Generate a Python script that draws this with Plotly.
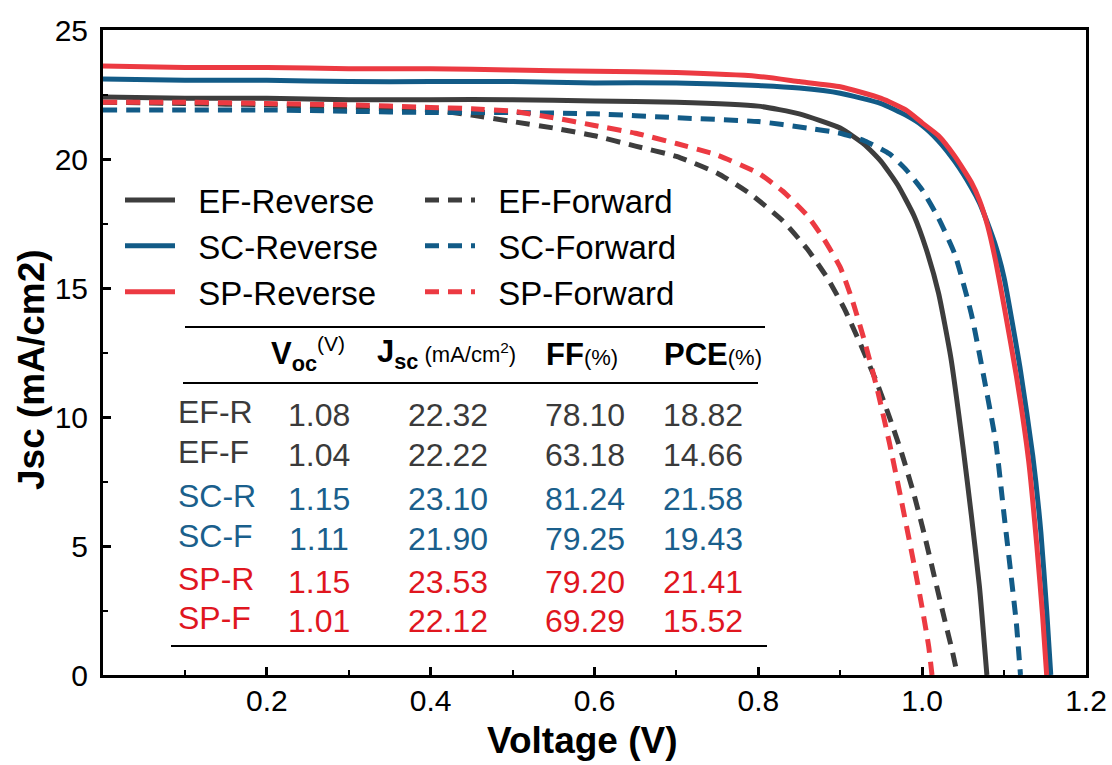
import plotly.graph_objects as go

# ---------------- data ----------------
V_EF_R = [0, 0.1, 0.2, 0.3, 0.4, 0.5, 0.6, 0.7, 0.8, 0.85, 0.9, 0.93, 0.95, 0.97, 0.99, 1.005, 1.02, 1.035, 1.05, 1.06, 1.07, 1.079]
J_EF_R = [22.4, 22.35, 22.35, 22.3, 22.3, 22.3, 22.25, 22.2, 22.05, 21.75, 21.2, 20.55, 19.9, 19.0, 17.8, 16.5, 14.8, 12.3, 8.8, 6.2, 3.4, 0]

V_SC_R = [0, 0.1, 0.2, 0.3, 0.4, 0.5, 0.6, 0.7, 0.8, 0.85, 0.9, 0.95, 0.98, 1.0, 1.02, 1.04, 1.06, 1.07, 1.08, 1.09, 1.1, 1.12, 1.135, 1.145, 1.152, 1.157]
J_SC_R = [23.1, 23.05, 23.05, 23.0, 23.0, 23.0, 22.95, 22.95, 22.85, 22.75, 22.55, 22.15, 21.7, 21.3, 20.7, 19.9, 18.9, 18.3, 17.5, 16.6, 15.4, 11.8, 8.5, 5.5, 2.5, 0]

V_SP_R = [0, 0.1, 0.2, 0.3, 0.4, 0.5, 0.6, 0.7, 0.8, 0.85, 0.9, 0.95, 0.98, 1.0, 1.02, 1.04, 1.06, 1.07, 1.08, 1.09, 1.1, 1.115, 1.13, 1.14, 1.147, 1.152]
J_SP_R = [23.6, 23.55, 23.55, 23.5, 23.5, 23.45, 23.4, 23.35, 23.2, 23.0, 22.8, 22.35, 21.9, 21.4, 20.9, 20.1, 19.1, 18.4, 17.4, 16.0, 14.3, 11.6, 8.3, 5.0, 2.3, 0]

V_EF_F = [0, 0.1, 0.2, 0.3, 0.4, 0.45, 0.5, 0.55, 0.6, 0.65, 0.7, 0.75, 0.79, 0.83, 0.86, 0.885, 0.905, 0.925, 0.945, 0.96, 0.975, 0.99, 1.003, 1.015, 1.027, 1.037, 1.043]
J_EF_F = [22.2, 22.15, 22.1, 22.0, 21.9, 21.7, 21.45, 21.2, 20.9, 20.5, 20.1, 19.45, 18.65, 17.6, 16.5, 15.35, 14.2, 12.8, 11.3, 10.0, 8.6, 7.0, 5.4, 3.8, 2.2, 0.9, 0]

V_SC_F = [0, 0.1, 0.2, 0.3, 0.4, 0.5, 0.6, 0.7, 0.8, 0.86, 0.9, 0.93, 0.96, 0.98, 1.0, 1.02, 1.04, 1.06, 1.075, 1.09, 1.1, 1.108, 1.115, 1.12]
J_SC_F = [21.9, 21.9, 21.9, 21.85, 21.8, 21.8, 21.75, 21.6, 21.45, 21.2, 21.0, 20.7, 20.2, 19.6, 18.8, 17.7, 16.3, 14.0, 11.6, 9.0, 6.2, 4.0, 2.0, 0]

V_SP_F = [0, 0.1, 0.2, 0.3, 0.4, 0.45, 0.5, 0.55, 0.6, 0.65, 0.7, 0.75, 0.8, 0.83, 0.86, 0.88, 0.9, 0.915, 0.93, 0.945, 0.96, 0.975, 0.99, 1.0, 1.008, 1.012]
J_SP_F = [22.2, 22.2, 22.15, 22.1, 22.0, 21.95, 21.85, 21.6, 21.3, 21.0, 20.6, 20.15, 19.45, 18.75, 17.8, 16.9, 15.8, 14.5, 12.9, 11.1, 9.0, 6.7, 4.3, 2.6, 1.1, 0]

# table values
row_labels = ["EF-R", "EF-F", "SC-R", "SC-F", "SP-R", "SP-F"]
voc = [1.08, 1.04, 1.15, 1.11, 1.15, 1.01]
jsc = [22.32, 22.22, 23.10, 21.90, 23.53, 22.12]
ff = [78.10, 63.18, 81.24, 79.25, 79.20, 69.29]
pce = [18.82, 14.66, 21.58, 19.43, 21.41, 15.52]

# x ticks / y ticks
x_ticks = [0.2, 0.4, 0.6, 0.8, 1.0, 1.2]
x_minor = [0.1, 0.3, 0.5, 0.7, 0.9, 1.1]
y_ticks = [0, 5, 10, 15, 20, 25]
y_minor = [2.5, 7.5, 12.5, 17.5, 22.5]

# ---------------- styling ----------------
GRAY = "#3d3d3d"
BLUE = "#125b87"
RED = "#ec3a42"
T_GRAY = "#3a3a3a"
T_BLUE = "#1a5f8c"
T_RED = "#e0161f"
FONT = "Liberation Sans, Arial, sans-serif"

W, H = 1112, 765
L, R, T, B = 103, 26, 30, 90
PW, PH = W - L - R, H - T - B


def px(xp):
    return (xp - L) / PW


def py(yp):
    return (H - B - yp) / PH


fig = go.Figure()

GAP = "\u00a0\u00a0"


def add(name, V, J, color, dash, legend):
    fig.add_trace(go.Scatter(
        x=V, y=J, mode="lines", name=GAP + name, legend=legend,
        line=dict(color=color, width=5, dash=dash, shape="spline", smoothing=0.5),
    ))


DASH = "14px,9px"
add("EF-Reverse", V_EF_R, J_EF_R, GRAY, "solid", "legend")
add("SC-Reverse", V_SC_R, J_SC_R, BLUE, "solid", "legend")
add("SP-Reverse", V_SP_R, J_SP_R, RED, "solid", "legend")
add("EF-Forward", V_EF_F, J_EF_F, GRAY, DASH, "legend2")
add("SC-Forward", V_SC_F, J_SC_F, BLUE, DASH, "legend2")
add("SP-Forward", V_SP_F, J_SP_F, RED, DASH, "legend2")

annotations = []
shapes = []

# table rules
for (x0, x1, yy) in [(185, 765, 327), (183, 758, 383), (171, 767, 646)]:
    shapes.append(dict(type="line", xref="paper", yref="paper",
                       x0=px(x0), x1=px(x1), y0=py(yy), y1=py(yy),
                       line=dict(color="black", width=2)))

# table header
hdr_y = 354
headers = [
    (308, "<b>V</b><b><sub>oc</sub></b><sup><span style='font-size:21px'>(V)</span></sup>"),
    (446, "<b>J</b><b><sub>sc</sub></b><span style='font-size:22px'> (mA/cm<sup>2</sup>)</span>"),
    (582, "<b>FF</b><span style='font-size:22px'>(%)</span>"),
    (713, "<b>PCE</b><span style='font-size:22px'>(%)</span>"),
]
for xc, txt in headers:
    annotations.append(dict(xref="paper", yref="paper", x=px(xc), y=py(hdr_y),
                            text=txt, showarrow=False, xanchor="center", yanchor="middle",
                            font=dict(family=FONT, size=31, color="black")))

row_y = [415, 455, 499, 539, 582, 621]
row_col = [T_GRAY, T_GRAY, T_BLUE, T_BLUE, T_RED, T_RED]
col_x = [319, 448, 585, 703]
for i, lab in enumerate(row_labels):
    annotations.append(dict(xref="paper", yref="paper", x=px(176), y=py(row_y[i] - 3),
                            text=lab, showarrow=False, xanchor="left", yanchor="middle",
                            font=dict(family=FONT, size=32, color=row_col[i])))
    for cx, val in zip(col_x, [voc[i], jsc[i], ff[i], pce[i]]):
        annotations.append(dict(xref="paper", yref="paper", x=px(cx), y=py(row_y[i]),
                                text=f"{val:.2f}", showarrow=False, xanchor="center", yanchor="middle",
                                font=dict(family=FONT, size=32, color=row_col[i])))

# axis titles
annotations.append(dict(xref="paper", yref="paper", x=px(582), y=py(740),
                        text="<b>Voltage (V)</b>", showarrow=False, xanchor="center", yanchor="middle",
                        font=dict(family=FONT, size=37, color="black")))
annotations.append(dict(xref="paper", yref="paper", x=px(31), y=py(370),
                        text="<b>Jsc (mA/cm2)</b>", showarrow=False, xanchor="center", yanchor="middle",
                        textangle=-90, font=dict(family=FONT, size=37, color="black")))

axis_common = dict(showline=True, linewidth=3, linecolor="black", mirror=True,
                   ticks="inside", ticklen=8, tickwidth=2.5, tickcolor="black",
                   showgrid=False, zeroline=False, automargin=False,
                   tickfont=dict(family=FONT, size=30, color="black"))

fig.update_layout(
    width=W, height=H,
    margin=dict(l=L, r=R, t=T, b=B, autoexpand=False),
    paper_bgcolor="white", plot_bgcolor="white",
    font=dict(family=FONT, color="black"),
    xaxis=dict(range=[0, 1.2], tickmode="array", tickvals=x_ticks,
               ticktext=[f"{v:.1f}" for v in x_ticks], ticklabelstandoff=-3,
               minor=dict(tickmode="array", tickvals=x_minor, ticks="inside", ticklen=5,
                          tickwidth=2, tickcolor="black"),
               **axis_common),
    yaxis=dict(range=[0, 25], tickmode="array", tickvals=y_ticks,
               ticktext=[str(v) for v in y_ticks], ticklabelstandoff=6,
               minor=dict(tickmode="array", tickvals=y_minor, ticks="inside", ticklen=5,
                          tickwidth=2, tickcolor="black"),
               **axis_common),
    legend=dict(x=px(120), y=py(172), xanchor="left", yanchor="top",
                bgcolor="rgba(0,0,0,0)", itemwidth=50, tracegroupgap=0,
                font=dict(family=FONT, size=33, color="black")),
    legend2=dict(x=px(420), y=py(172), xanchor="left", yanchor="top",
                 bgcolor="rgba(0,0,0,0)", itemwidth=50, tracegroupgap=0,
                 font=dict(family=FONT, size=33, color="black")),
    annotations=annotations,
    shapes=shapes,
    showlegend=True,
)

fig.write_html("out.html", config={"displayModeBar": False},
               post_script="document.body.style.margin='0';")
